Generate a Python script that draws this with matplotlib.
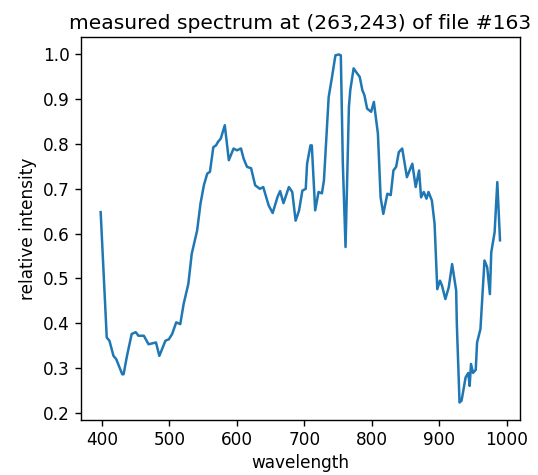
import matplotlib
matplotlib.use('Agg')
import matplotlib.pyplot as plt

# spectrum values
wavelength = [398, 407, 411, 417, 421, 430, 432, 437, 444, 450, 454, 462, 469, 480,
              485, 494, 499, 504, 510, 516, 521, 528, 533, 541, 546, 551, 556, 560,
              565, 569, 572, 576, 582, 588, 595, 600, 606, 610, 615, 621, 627, 634,
              639, 647, 653, 660, 664, 669, 677, 682, 687, 692, 697, 702, 704, 709,
              711, 716, 721, 726, 729, 736, 741, 746, 751, 754, 757, 761, 766, 768,
              773, 778, 782, 786, 789, 793, 799, 803, 809, 813, 817, 823, 828, 832,
              836, 840, 845, 852, 860, 865, 870, 873, 877, 881, 884, 889, 893, 897,
              901, 904, 909, 914, 919, 925, 926, 930, 933, 939, 943, 945, 947, 950,
              954, 956, 961, 967, 971, 975, 977, 982, 986, 990]
intensity = [0.648, 0.368, 0.361, 0.327, 0.320, 0.286, 0.286, 0.327, 0.376, 0.380,
             0.372, 0.372, 0.353, 0.357, 0.327, 0.361, 0.364, 0.376, 0.402, 0.398,
             0.443, 0.488, 0.555, 0.607, 0.667, 0.708, 0.734, 0.738, 0.793, 0.797,
             0.805, 0.812, 0.842, 0.764, 0.790, 0.786, 0.790, 0.767, 0.749, 0.746,
             0.708, 0.700, 0.704, 0.663, 0.646, 0.681, 0.695, 0.668, 0.704, 0.693,
             0.629, 0.651, 0.696, 0.700, 0.756, 0.797, 0.797, 0.652, 0.693, 0.690,
             0.719, 0.905, 0.950, 0.998, 1.000, 0.998, 0.756, 0.570, 0.883, 0.920,
             0.969, 0.958, 0.950, 0.920, 0.909, 0.879, 0.872, 0.894, 0.823, 0.681,
             0.644, 0.689, 0.686, 0.741, 0.749, 0.782, 0.790, 0.726, 0.756, 0.704,
             0.741, 0.681, 0.693, 0.678, 0.693, 0.674, 0.622, 0.476, 0.495, 0.484,
             0.454, 0.480, 0.532, 0.473, 0.398, 0.223, 0.227, 0.279, 0.289, 0.260,
             0.309, 0.289, 0.296, 0.357, 0.387, 0.540, 0.525, 0.465, 0.558, 0.603,
             0.715, 0.585]

fig = plt.figure(figsize=(5.38, 4.75), dpi=100)
ax = fig.add_axes([0.150, 0.116, 0.8165, 0.806])
ax.plot(wavelength, intensity, color='#1f77b4', linewidth=1.8)
ax.set_xticks([400, 500, 600, 700, 800, 900, 1000])
ax.tick_params(labelsize=12.2, length=4.3, width=1.0)
for s in ax.spines.values():
    s.set_linewidth(1.0)
ax.set_xlabel('wavelength', fontsize=12.2)
ax.set_ylabel('relative intensity', fontsize=12.2)
ax.set_title('measured spectrum at (263,243) of file #163', fontsize=14.6)
fig.savefig('out.png', dpi=100)
